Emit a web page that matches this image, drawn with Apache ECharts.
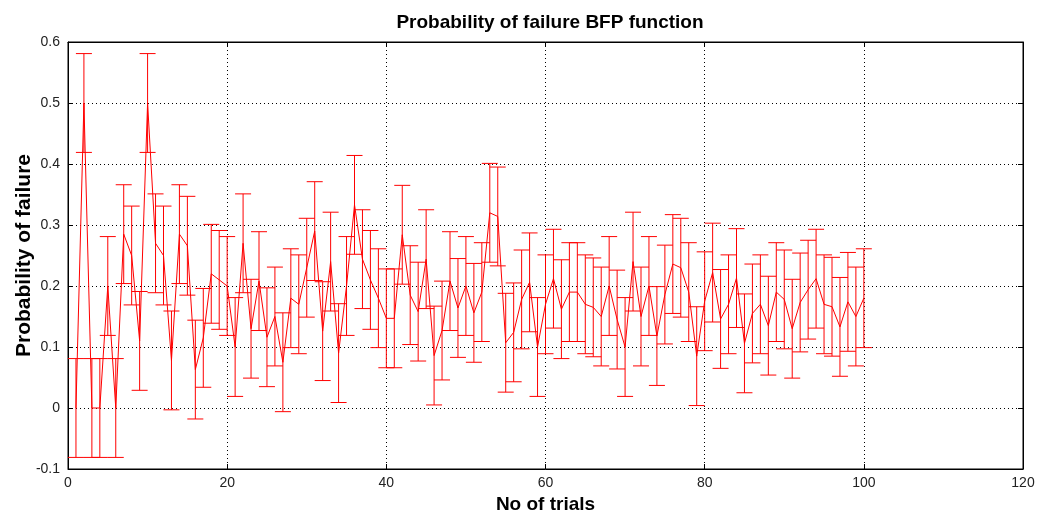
<!DOCTYPE html>
<html>
<head>
<meta charset="utf-8">
<script src="https://cdn.jsdelivr.net/npm/echarts@6/dist/echarts.min.js"></script>
<style>
  html, body { margin: 0; padding: 0; background: #fff; }
  #chart { width: 1038px; height: 520px; }
</style>
</head>
<body>
<div id="chart"></div>
<script>
// ---- data ----
const trials = [];
for (let i = 1; i <= 100; i++) trials.push(i);

const probFailure = [
  0, 0.5, 0, 0, 0.2, 0, 0.285, 0.25, 0.11, 0.5,
  0.27, 0.25, 0.078, 0.285, 0.266, 0.063, 0.115, 0.22, 0.21, 0.2,
  0.1, 0.27, 0.13, 0.208, 0.116, 0.15, 0.075, 0.18, 0.17, 0.23,
  0.29, 0.126, 0.24, 0.09, 0.2, 0.333, 0.244, 0.21, 0.18, 0.147,
  0.147, 0.284, 0.185, 0.158, 0.244, 0.086, 0.127, 0.208, 0.164, 0.2,
  0.156, 0.19, 0.32, 0.314, 0.107, 0.124, 0.178, 0.206, 0.1, 0.17,
  0.212, 0.162, 0.19, 0.19, 0.17, 0.165, 0.15, 0.2, 0.145, 0.1,
  0.24, 0.15, 0.2, 0.118, 0.186, 0.236, 0.23, 0.19, 0.085, 0.175,
  0.222, 0.146, 0.17, 0.213, 0.106, 0.155, 0.17, 0.135, 0.19, 0.178,
  0.13, 0.173, 0.194, 0.212, 0.17, 0.166, 0.133, 0.174, 0.15, 0.18
];

const errorHalfWidth = 0.081;

const xTicks = [0, 20, 40, 60, 80, 100, 120];
const yTicks = [-0.1, 0, 0.1, 0.2, 0.3, 0.4, 0.5, 0.6];

const titleText = 'Probability of failure BFP function';
const xName = 'No of trials';
const yName = 'Probability of failure';

// ---- build ----
const lineData = trials.map((t, i) => [t, probFailure[i]]);
const errData = trials.map((t, i) => [t, probFailure[i] - errorHalfWidth, probFailure[i] + errorHalfWidth]);

const FONT = '"Liberation Sans", Arial, Helvetica, sans-serif';
const chart = echarts.init(document.getElementById('chart'), null, { renderer: 'canvas' });

const gridLine = { show: true, lineStyle: { color: '#000', type: [1, 3], width: 1 } };
const axisLineStyle = { show: true, onZero: false, lineStyle: { color: '#000' } };
const tickStyle = { show: true, inside: true, length: 5, lineStyle: { color: '#000' } };

chart.setOption({
  animation: false,
  backgroundColor: '#fff',
  title: {
    text: titleText,
    left: 545, top: 8, textAlign: 'center',
    textStyle: { fontFamily: FONT, fontSize: 19, fontWeight: 'bold', color: '#000' }
  },
  grid: { left: 68, right: 15, top: 42, bottom: 51, show: true, borderColor: '#000', borderWidth: 1,
    containLabel: false, outerBoundsMode: 'none' },
  xAxis: [{
    type: 'value', min: xTicks[0], max: xTicks[xTicks.length - 1], interval: 20,
    position: 'bottom',
    name: xName, nameLocation: 'middle', nameGap: 26, nameMoveOverlap: false,
    nameTextStyle: { fontFamily: FONT, fontSize: 19, fontWeight: 'bold', color: '#000' },
    axisLine: axisLineStyle,
    axisTick: tickStyle,
    axisLabel: { fontFamily: FONT, fontSize: 14, color: '#222', margin: 7 },
    splitLine: gridLine
  }, {
    type: 'value', min: xTicks[0], max: xTicks[xTicks.length - 1], interval: 20,
    position: 'top',
    axisLine: axisLineStyle,
    axisTick: tickStyle,
    axisLabel: { show: false }, splitLine: { show: false }
  }],
  yAxis: [{
    type: 'value', min: yTicks[0], max: yTicks[yTicks.length - 1], interval: 0.1,
    position: 'left',
    name: yName, nameLocation: 'middle', nameGap: 33, nameMoveOverlap: false,
    nameTextStyle: { fontFamily: FONT, fontSize: 21, fontWeight: 'bold', color: '#000' },
    axisLine: axisLineStyle,
    axisTick: tickStyle,
    axisLabel: { fontFamily: FONT, fontSize: 14, color: '#222', margin: 8,
      formatter: v => String(Number(v.toFixed(1))) },
    splitLine: gridLine
  }, {
    type: 'value', min: yTicks[0], max: yTicks[yTicks.length - 1], interval: 0.1,
    position: 'right',
    axisLine: axisLineStyle,
    axisTick: tickStyle,
    axisLabel: { show: false }, splitLine: { show: false }
  }],
  series: [{
    type: 'custom',
    xAxisIndex: 0, yAxisIndex: 0,
    data: errData,
    renderItem: function (params, api) {
      const x = api.value(0);
      const lo = api.coord([x, api.value(1)]);
      const hi = api.coord([x, api.value(2)]);
      const cap = 8;
      const style = { stroke: '#ff0000', lineWidth: 1 };
      return {
        type: 'group',
        children: [
          { type: 'line', shape: { x1: lo[0], y1: lo[1], x2: hi[0], y2: hi[1] }, style: style },
          { type: 'line', shape: { x1: lo[0] - cap, y1: lo[1], x2: lo[0] + cap, y2: lo[1] }, style: style },
          { type: 'line', shape: { x1: hi[0] - cap, y1: hi[1], x2: hi[0] + cap, y2: hi[1] }, style: style }
        ]
      };
    },
    z: 3
  }, {
    type: 'line',
    xAxisIndex: 0, yAxisIndex: 0,
    data: lineData,
    showSymbol: false,
    lineStyle: { color: '#ff0000', width: 1 },
    z: 4
  }]
});
</script>
</body>
</html>
